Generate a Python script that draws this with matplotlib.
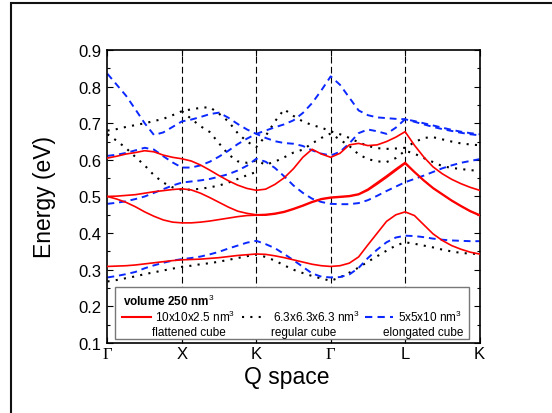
import numpy as np
import matplotlib.pyplot as plt
from matplotlib.patches import Rectangle
from matplotlib.ticker import MultipleLocator

plt.rcParams['font.family'] = ['Liberation Sans', 'DejaVu Sans']
plt.rcParams['mathtext.fontset'] = 'custom'
plt.rcParams['mathtext.rm'] = 'Liberation Sans'

# path positions along Q space (Gamma, X, K, Gamma, L, K at 0..5)
q = [0.0, 0.125, 0.25, 0.375, 0.5, 0.625, 0.75, 0.875,
     1.0, 1.125, 1.25, 1.375, 1.5, 1.625, 1.75, 1.875,
     2.0, 2.125, 2.25, 2.375, 2.5, 2.625, 2.75, 2.875,
     3.0, 3.125, 3.25, 3.375, 3.5, 3.625, 3.75, 3.875,
     4.0, 4.125, 4.25, 4.375, 4.5, 4.625, 4.75, 4.875, 5.0]
q_labels = ['Γ', 'X', 'K', 'Γ', 'L', 'K']

# flattened cube 10x10x2.5
red_1 = [0.309, 0.310, 0.311, 0.313, 0.316, 0.319, 0.322, 0.325,
         0.327, 0.328, 0.329, 0.331, 0.333, 0.336, 0.339, 0.341,
         0.343, 0.342, 0.338, 0.333, 0.327, 0.321, 0.315, 0.311,
         0.309, 0.311, 0.318, 0.335, 0.368, 0.400, 0.432, 0.450,
         0.458, 0.448, 0.423, 0.398, 0.380, 0.366, 0.356, 0.348, 0.343]
red_2 = [0.500, 0.501, 0.503, 0.505, 0.509, 0.513, 0.516, 0.519,
         0.521, 0.518, 0.509, 0.497, 0.484, 0.471, 0.460, 0.454,
         0.450, 0.451, 0.454, 0.459, 0.467, 0.476, 0.486, 0.494,
         0.498, 0.500, 0.502, 0.507, 0.520, 0.538, 0.556, 0.575,
         0.593, 0.568, 0.545, 0.524, 0.507, 0.490, 0.475, 0.461, 0.450]
red_3 = [0.500, 0.493, 0.484, 0.472, 0.458, 0.446, 0.436, 0.430,
         0.428, 0.428, 0.430, 0.433, 0.437, 0.441, 0.445, 0.448,
         0.449, 0.449, 0.452, 0.457, 0.465, 0.474, 0.484, 0.492,
         0.496, 0.498, 0.500, 0.505, 0.517, 0.534, 0.552, 0.571,
         0.590, 0.566, 0.543, 0.522, 0.505, 0.488, 0.473, 0.459, 0.448]
red_4 = [0.605, 0.610, 0.616, 0.620, 0.625, 0.622, 0.613, 0.607,
         0.603, 0.597, 0.586, 0.572, 0.557, 0.543, 0.531, 0.522,
         0.517, 0.520, 0.533, 0.551, 0.576, 0.607, 0.629, 0.616,
         0.607, 0.618, 0.641, 0.645, 0.639, 0.641, 0.650, 0.662,
         0.677, 0.640, 0.608, 0.581, 0.562, 0.547, 0.535, 0.525, 0.517]

# regular cube 6.3x6.3x6.3 (None where the band is not drawn)
black_1 = [0.268, 0.272, 0.277, 0.282, 0.288, 0.293, 0.298, 0.303,
           0.308, 0.311, 0.315, 0.318, 0.322, 0.327, 0.332, 0.337,
           0.341, 0.335, 0.325, 0.312, 0.300, 0.291, 0.283, 0.276,
           0.270, 0.279, 0.292, 0.306, 0.322, 0.337, 0.352, 0.366,
           0.375, 0.371, 0.366, 0.361, 0.355, 0.350, 0.346, 0.344, 0.343]
black_2 = [0.680, 0.684, 0.690, 0.695, 0.700, 0.706, 0.712, 0.722,
           0.733, 0.738, 0.742, 0.744, 0.726, 0.705, 0.673, 0.650,
           0.635, 0.665, 0.705, 0.738, 0.720, 0.705, 0.695, 0.688,
           0.678, 0.670, 0.660, 0.648, 0.638, 0.632, 0.630, 0.631,
           0.633, 0.648, 0.660, 0.662, 0.656, 0.650, 0.645, 0.642, 0.640]
black_3 = [0.670, 0.652, 0.632, 0.608, 0.585, 0.558, 0.538, 0.525,
           0.518, 0.519, 0.521, 0.525, 0.530, 0.538, 0.548, 0.558,
           0.567, None, None, None, None, None, None, None,
           None, None, None, None, None, None, None, None,
           None, None, None, None, None, None, None, None, None]
black_4 = [None, None, None, None, None, None, None, None,
           0.733, 0.712, 0.692, 0.676, 0.645, 0.615, 0.596, 0.592,
           0.598, 0.587, 0.595, 0.607, 0.620, 0.628, 0.645, 0.660,
           0.672, 0.655, 0.638, 0.615, 0.602, 0.596, 0.594, 0.605,
           0.625, 0.617, 0.605, 0.594, 0.583, 0.578, 0.575, 0.572, 0.570]

# elongated cube 5x5x10
blue_1 = [0.279, 0.283, 0.288, 0.294, 0.304, 0.312, 0.319, 0.325,
          0.329, 0.332, 0.336, 0.342, 0.349, 0.358, 0.366, 0.374,
          0.379, 0.370, 0.359, 0.343, 0.326, 0.308, 0.290, 0.281,
          0.279, 0.280, 0.287, 0.305, 0.332, 0.355, 0.375, 0.388,
          0.393, 0.392, 0.389, 0.385, 0.382, 0.380, 0.379, 0.378, 0.378]
blue_2 = [0.480, 0.483, 0.487, 0.493, 0.500, 0.510, 0.520, 0.530,
          0.538, 0.541, 0.544, 0.548, 0.554, 0.561, 0.571, 0.584,
          0.603, 0.595, 0.578, 0.555, 0.530, 0.510, 0.494, 0.485,
          0.480, 0.479, 0.479, 0.482, 0.490, 0.502, 0.515, 0.527,
          0.539, 0.548, 0.557, 0.567, 0.577, 0.585, 0.592, 0.597, 0.602]
blue_3 = [0.611, 0.614, 0.619, 0.626, 0.633, 0.628, 0.610, 0.593,
          0.579, 0.579, 0.585, 0.595, 0.609, 0.625, 0.643, 0.658,
          0.671, 0.680, 0.689, 0.697, 0.708, 0.728, 0.755, 0.790,
          0.828, 0.805, 0.770, 0.735, 0.722, 0.716, 0.714, 0.712,
          0.711, 0.704, 0.697, 0.690, 0.684, 0.679, 0.674, 0.670, 0.667]
blue_4 = [0.835, 0.805, 0.775, 0.738, 0.700, 0.668, 0.675, 0.690,
          0.705, 0.710, 0.717, 0.725, 0.729, 0.715, 0.698, 0.683,
          0.671, 0.660, 0.651, 0.646, 0.644, 0.638, 0.626, 0.617,
          0.612, 0.622, 0.645, 0.673, 0.683, 0.678, 0.671, 0.688,
          0.711, 0.706, 0.700, 0.694, 0.688, 0.682, 0.677, 0.673, 0.670]

red = '#ff0000'
blue = '#0a28ff'
dot_style = (0, (1, 3))
dash_style = (0, (3.5, 2.5))

fig = plt.figure(figsize=(5.52, 4.14), dpi=100)
ax = fig.add_axes([0.1947, 0.1691, 0.674, 0.7077])

# outer frame
fig.patches.append(Rectangle((0.02, -0.1), 1.2, 1.0896, transform=fig.transFigure,
                             fill=False, edgecolor='#111111', lw=1.5))

for xv in [1, 2, 3, 4]:
    ax.axvline(xv, color='black', lw=0.8, ls=(0, (6, 3)), zorder=1)

for s in [red_1, red_2, red_3, red_4]:
    ax.plot(q, s, color=red, lw=1.2, zorder=3)
for s in [black_1, black_2, black_3, black_4]:
    ax.plot(q, np.array(s, dtype=float), color='black', lw=1.5, ls=dot_style, zorder=2)
for s in [blue_1, blue_2, blue_3, blue_4]:
    ax.plot(q, s, color=blue, lw=1.4, ls=dash_style, zorder=2)

ax.set_xlim(0, 5)
ax.set_ylim(0.1, 0.9)
ax.set_xticks(range(6))
ax.set_xticklabels(q_labels)
for i, t in enumerate(ax.get_xticklabels()):
    if q_labels[i] == 'Γ':
        t.set_family('Liberation Serif')
ax.yaxis.set_major_locator(MultipleLocator(0.1))
ax.yaxis.set_minor_locator(MultipleLocator(0.05))
ax.tick_params(which='both', direction='in', top=True, right=True, labelsize=12)
ax.tick_params(which='major', length=4, width=0.8)
ax.tick_params(which='minor', length=2.5, width=0.8)
ax.tick_params(axis='x', pad=2)
ax.tick_params(axis='y', pad=4.5)
for sp in ax.spines.values():
    sp.set_linewidth(1.2)

ax.set_ylabel('Energy (eV)', fontsize=16.5)
ax.yaxis.label.set_va('center')
ax.yaxis.set_label_coords(-0.169, 0.5)
ax.set_xlabel('Q space', fontsize=16.5)
ax.xaxis.label.set_va('center')
ax.xaxis.set_label_coords(0.4825, -0.116)

# legend box
ax.add_patch(Rectangle((0.0202, 0.0137), 0.9524, 0.1763, transform=ax.transAxes,
                       facecolor='white', edgecolor='#777777', lw=1.0, zorder=5))
ax.text(0.0425, 0.1444, r'volume 250 nm$^3$', transform=ax.transAxes, fontsize=8.5,
        fontweight='bold', va='center', ha='left', zorder=6)
entries = [
    (0.0398, 0.1161, 0.1277, r'10x10x2.5 nm$^3$', 'flattened cube', 0.219,
     dict(color=red, lw=1.5, ls='-')),
    (0.3608, 0.428, 0.444, r'6.3x6.3x6.3 nm$^3$', 'regular cube', 0.526,
     dict(color='black', lw=1.5, ls=dot_style)),
    (0.6922, 0.7683, 0.7817, r'5x5x10 nm$^3$', 'elongated cube', 0.848,
     dict(color=blue, lw=1.5, ls=dash_style)),
]
for x0, x1, xt, lab, sub, xs, kw in entries:
    ax.plot([x0, x1], [0.0898, 0.0898], transform=ax.transAxes, zorder=6, **kw)
    ax.text(xt, 0.0898, lab, transform=ax.transAxes, fontsize=8.5, va='center',
            ha='left', zorder=6)
    ax.text(xs, 0.0365, sub, transform=ax.transAxes, fontsize=8.5, va='center',
            ha='center', zorder=6)

fig.savefig('out.png', dpi=100)
